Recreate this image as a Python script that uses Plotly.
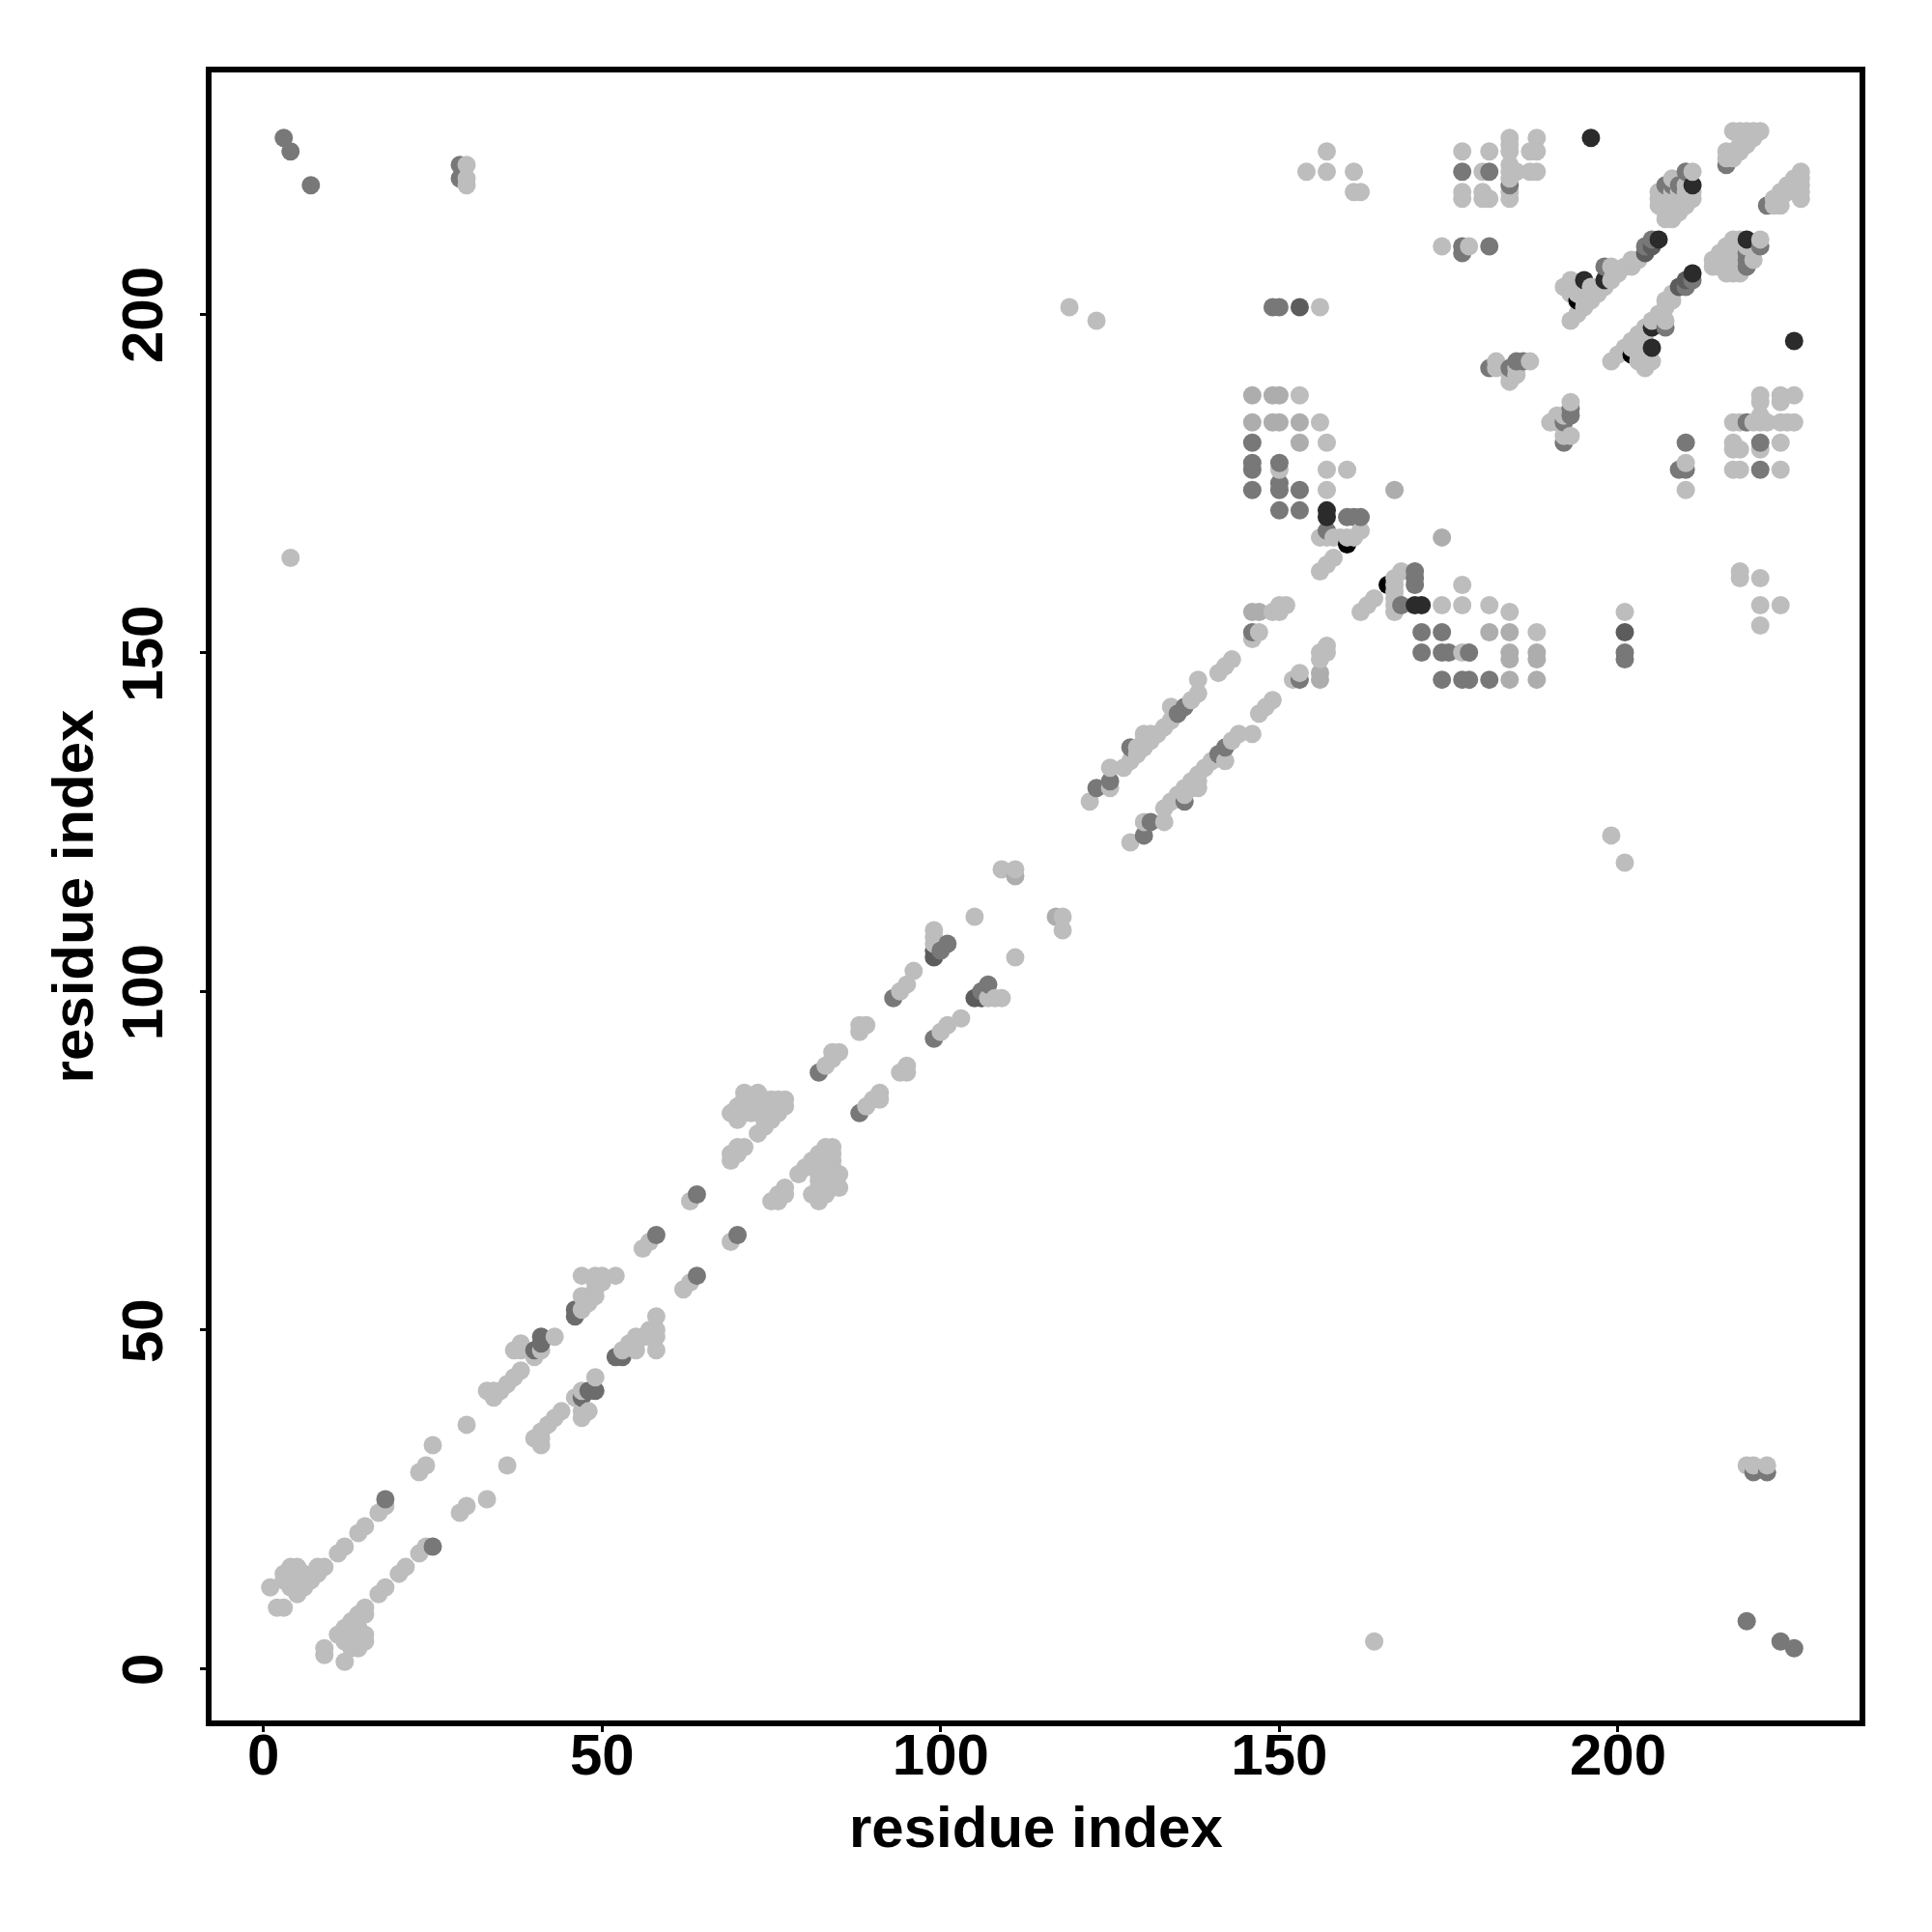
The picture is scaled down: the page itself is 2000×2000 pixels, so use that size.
import plotly.graph_objects as go

# contacts are listed once as (i, j) with i < j; the matrix is symmetric
pale = [(1,12),(2,9),(3,9),(3,13),(3,14),(4,12),(4,13),(4,14),(4,15),(5,11),(5,12),(5,13),(5,15),(6,12),(6,14),(7,13),(8,14),(8,15),(9,15),
 (11,17),(12,18),(14,20),(15,21),(17,23),(18,24),(23,29),(24,30),(25,33),(30,36),(33,41),(34,40),(34,41),(35,41),(36,42),(37,43),(38,44),
 (37,47),(38,47),(38,48),(40,46),(41,47),(43,49),(47,53),(47,55),(48,54),(48,55),(49,55),(49,56),(50,57),(47,58),(49,57),(49,58),(50,58),(52,58),
 (56,62),(57,63),(63,69),(69,75),(69,76),(70,76),(70,77),(71,77),(69,82),(70,81),(70,82),(70,83),(71,82),(71,83),(71,84),(71,85),(72,82),(72,83),(72,84),(73,82),(73,83),(73,84),(73,85),
 (73,79),(74,80),(74,81),(74,82),(74,84),(75,81),(75,82),(75,83),(75,84),(76,82),(76,83),(76,84),(77,83),(77,84),
 (83,89),(84,90),(84,91),(85,91),(88,94),(88,95),(89,95),(94,100),(95,101),(96,103),(99,107),(99,108),(99,109),(105,111),(109,118),(111,118),
 (122,128),(125,130),(125,133),(127,133),(128,134),(129,135),(129,136),(130,136),(130,137),(130,138),(131,137),(131,138),(132,138),(133,139),(134,140),(134,142),
 (137,143),(138,144),(138,146),(141,147),(142,148),(143,149),(146,152),(147,153),(149,156),(150,156),(150,157),(151,157),(156,162),(157,163),(158,164),
 (156,167),(157,167),(158,167),(159,167),(160,167),(161,167),(162,168),(157,174),(157,177),(157,181),(160,177),(150,177),(156,184),(153,188),
 (154,221),(157,221),(157,224),(161,218),(162,218),(161,221),(119,201),(123,199),(156,201),(4,164),(30,222),(30,220),(30,219),
 (174,210),(178,210),(177,217),(177,218),(177,224),(180,217),(180,218),(180,221),(181,217),(181,224),(184,217),(184,218),(184,220),(184,221),(184,222),(184,224),(184,225),(184,226),(185,221),(187,221),(187,224),
 (188,221),(188,224),(188,226),(185,191),(184,190),(184,191),(182,192),(182,193),(187,193),(190,184),(191,185),(192,185),(192,182),(193,182),(193,187),
 (192,204),(193,199),(193,203),(193,205),(194,200),(194,202),(194,203),(194,204),(195,201),(195,202),(195,203),(196,202),(196,203),(196,204),(197,203),(197,204),(198,204),(199,205),(199,207),(200,206),(201,207),(202,207),(202,208),(203,208),
 (206,216),(206,217),(206,218),(207,214),(207,215),(207,216),(207,217),(207,218),(208,214),(208,215),(208,216),(208,217),(208,218),(209,215),(209,216),(209,217),(209,218),(210,216),(210,217),(210,218),(211,217),(211,218),(211,221),(208,220),(210,219),
 (216,224),(217,223),(217,224),(217,227),(218,224),(218,225),(218,227),(219,225),(219,226),(219,227),(220,226),(220,227),(221,227),(216,223)]

soft = [(111,117),(146,156),(147,156),(146,184),(146,188),(149,184),(149,188),(150,184),(150,188),(153,181),(153,184),
 (167,174),(192,184)]

mid = [(18,25),(58,64),(64,70),(82,88),(93,99),(100,106),(101,107),(123,130),(125,131),(128,136),(135,141),(136,142),(146,153),(146,177),
 (150,171),(150,174),(153,171),(153,174),(150,175),(150,178),(146,174),(146,178),(146,181),(157,168),(160,170),(161,170),(162,170),(3,226),(4,224),(7,219),
 (29,222),(29,220),(177,209),(177,210),(181,210),(177,221),(181,221),(184,219),(192,181),(181,192),(184,192),(185,193),(186,193),(193,185),(193,186),(198,207),(205,211),(207,219),(208,219),(209,219),(210,221),(204,210),(216,222),(149,201),(150,201)]

deep = [(40,47),(41,48),(41,49),(46,52),(46,53)]

dark = [(99,106),(99,105),(153,201),(204,209),(205,210)]

vdark = [(157,170),(157,171),(195,205),(198,205),(206,211),(211,219),(196,226)]

black = [(160,166),(194,202)]

shades = {"pale": "#BDBDBD", "soft": "#ADADAD", "mid": "#787878", "deep": "#6C6C6C", "dark": "#5C5C5C", "vdark": "#2B2B2B", "black": "#000000"}
groups = {"pale": pale, "soft": soft, "mid": mid, "deep": deep, "dark": dark, "vdark": vdark, "black": black}

tick_vals = [0, 50, 100, 150, 200]
axis_label = "residue index"

seen = {}
for name, pts in groups.items():
    for i, j in pts:
        a, b = min(i, j), max(i, j)
        seen[(a, b)] = shades[name]
all_pts = {}
for (a, b), c in seen.items():
    all_pts[(a, b)] = c
    all_pts[(b, a)] = c
ordered = sorted(all_pts.items())
xs = [k[0] for k, _ in ordered]
ys = [k[1] for k, _ in ordered]
cs = [c for _, c in ordered]

fig = go.Figure(go.Scatter(x=xs, y=ys, mode="markers", marker=dict(size=19, color=cs, line=dict(width=0)), showlegend=False))
font = dict(family="Liberation Sans", size=60, color="black", weight="bold")
common = dict(range=[-7.66, 235.66], tickvals=tick_vals, showgrid=False, zeroline=False, showline=True, mirror=True,
              linecolor="black", linewidth=6, ticks="outside", ticklen=6, tickwidth=3, tickcolor="black", tickfont=font)
fig.update_xaxes(ticklabelstandoff=-28, **common)
fig.update_yaxes(title=dict(text=axis_label, font=font, standoff=0), ticklabelstandoff=15, ticklabelshift=10, tickangle=-90, **common)
fig.add_annotation(text=axis_label, xref="paper", yref="paper", x=0.5, y=0, yanchor="top", yshift=-75, showarrow=False, font=font)
fig.update_layout(width=2000, height=2000, autosize=False, paper_bgcolor="white", plot_bgcolor="white",
                  margin=dict(l=211, r=83, t=67, b=227))
fig.write_html("out.html")
